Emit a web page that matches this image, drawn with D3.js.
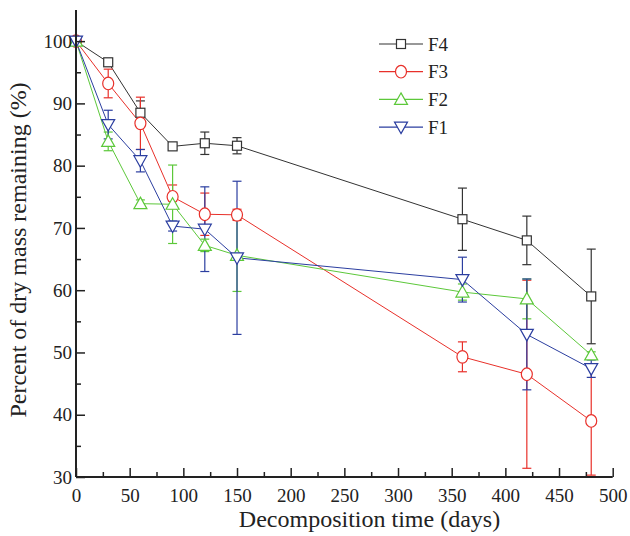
<!DOCTYPE html>
<html><head><meta charset="utf-8">
<script src="https://cdn.jsdelivr.net/npm/d3@7"></script>
<style>body{margin:0;background:#fff}svg{display:block}svg text{font-family:"Liberation Serif","DejaVu Serif",serif;}</style>
</head><body><svg id="c" width="630" height="536"></svg>
<script>
const days = [0, 30, 60, 90, 120, 150, 360, 420, 480];
const seriesNames = ["F4", "F3", "F2", "F1"];
const f4 = [100, 96.6, 88.5, 83.1, 83.6, 83.2, 71.4, 68.0, 59.0];
const f4Err = [0, 0.6, 1.9, 0.5, 1.8, 1.3, 5.0, 3.9, 7.6];
const f3 = [100, 93.2, 86.8, 75.0, 72.2, 72.1, 49.3, 46.5, 39.0];
const f3Err = [0, 2.3, 4.2, 1.9, 3.4, 0.9, 2.4, 15.1, 8.7];
const f2 = [100, 83.9, 73.9, 73.8, 67.2, 65.6, 59.7, 58.6, 49.6];
const f2Err = [0, 1.5, 0.6, 6.3, 1.0, 5.8, 1.3, 3.2, 0.5];
const f1 = [100, 86.6, 80.8, 70.3, 69.8, 65.2, 61.7, 52.9, 47.4];
const f1Err = [0, 2.3, 1.8, 0.8, 6.8, 12.3, 3.6, 8.9, 1.4];
const xTicks = [0, 50, 100, 150, 200, 250, 300, 350, 400, 450, 500];
const yTicks = [30, 40, 50, 60, 70, 80, 90, 100];
const xTitle = "Decomposition time (days)";
const yTitle = "Percent of dry mass remaining (%)";

const series = [
  {name: seriesNames[0], v: f4, e: f4Err, color: "#333333", sym: "square"},
  {name: seriesNames[1], v: f3, e: f3Err, color: "#e8302a", sym: "circle"},
  {name: seriesNames[2], v: f2, e: f2Err, color: "#5cc83a", sym: "up"},
  {name: seriesNames[3], v: f1, e: f1Err, color: "#2b3ea0", sym: "down"}
];

const svg = d3.select("#c");
const x = d3.scaleLinear().domain([0, 500]).range([76, 612.7]);
const y = d3.scaleLinear().domain([30, 105]).range([477, 10]);

function marker(g, sym, color) {
  if (sym === "square") {
    g.append("rect").attr("x", -4.5).attr("y", -4.5).attr("width", 9).attr("height", 9);
  } else if (sym === "circle") {
    g.append("ellipse").attr("rx", 5.5).attr("ry", 6.3);
  } else if (sym === "up") {
    g.append("path").attr("d", "M0,-6.5 L6.5,5 L-6.5,5 Z");
  } else {
    g.append("path").attr("d", "M0,6.5 L6.5,-5 L-6.5,-5 Z");
  }
  g.selectAll("*").attr("fill", "#fff").attr("stroke", color).attr("stroke-width", 1.2);
}

const plot = svg.append("g");
series.forEach(s => {
  const pts = days.map((d, i) => ({d, v: s.v[i], e: s.e[i]}));
  const g = plot.append("g");
  g.append("path").datum(pts)
    .attr("d", d3.line().x(p => x(p.d)).y(p => y(p.v)))
    .attr("fill", "none").attr("stroke", s.color).attr("stroke-width", 1);
  pts.filter(p => p.e > 0).forEach(p => {
    const eg = g.append("g").attr("stroke", s.color).attr("stroke-width", 1.2);
    eg.append("line").attr("x1", x(p.d)).attr("x2", x(p.d)).attr("y1", y(p.v - p.e)).attr("y2", y(p.v + p.e));
    [p.v - p.e, p.v + p.e].forEach(val => {
      eg.append("line").attr("x1", x(p.d) - 4.5).attr("x2", x(p.d) + 4.5).attr("y1", y(val)).attr("y2", y(val));
    });
  });
});
series.forEach(s => {
  days.forEach((d, i) => {
    marker(plot.append("g").attr("transform", `translate(${x(d)},${y(s.v[i])})`), s.sym, s.color);
  });
});

// axes
const xAxis = svg.append("g").attr("transform", "translate(0,477)")
  .call(d3.axisBottom(x).tickValues(xTicks).tickSize(-9).tickPadding(12).tickFormat(d3.format("d")));
svg.append("g").attr("transform", "translate(0,477)")
  .call(d3.axisBottom(x).tickValues(d3.range(25, 500, 50)).tickSize(-5).tickFormat(""))
  .call(g => g.select(".domain").remove());
const yAxis = svg.append("g").attr("transform", "translate(76,0)")
  .call(d3.axisLeft(y).tickValues(yTicks).tickSize(-9).tickPadding(4).tickFormat(d3.format("d")));
svg.append("g").attr("transform", "translate(76,0)")
  .call(d3.axisLeft(y).tickValues(d3.range(35, 105, 10)).tickSize(-5).tickFormat(""))
  .call(g => g.select(".domain").remove());
svg.selectAll(".domain").attr("stroke", "#222").attr("stroke-width", 2);
svg.selectAll(".tick line").attr("stroke", "#222").attr("stroke-width", 1.5);
svg.selectAll(".tick text").attr("font-family", null).attr("font-size", 19).attr("fill", "#222");
yAxis.selectAll(".domain").attr("d", "M0,477V10");
xAxis.selectAll(".domain").attr("d", "M76,0H612.7");
svg.selectAll("g").attr("font-family", null);

svg.append("text").attr("x", 369.5).attr("y", 527).attr("text-anchor", "middle")
  .attr("font-size", 24).attr("fill", "#222").text(xTitle);
svg.append("text").attr("transform", "translate(26,250) rotate(-90)").attr("text-anchor", "middle")
  .attr("font-size", 24).attr("fill", "#222").text(yTitle);

// legend
const leg = svg.append("g");
series.forEach((s, i) => {
  const ly = 44 + i * 27.7;
  leg.append("line").attr("x1", 379).attr("x2", 423).attr("y1", ly).attr("y2", ly)
    .attr("stroke", s.color).attr("stroke-width", 1.2);
  marker(leg.append("g").attr("transform", `translate(401,${ly})`), s.sym, s.color);
  leg.append("text").attr("x", 428).attr("y", ly + 6.5)
    .attr("font-size", 19).attr("fill", "#222").text(s.name);
});
</script></body></html>
